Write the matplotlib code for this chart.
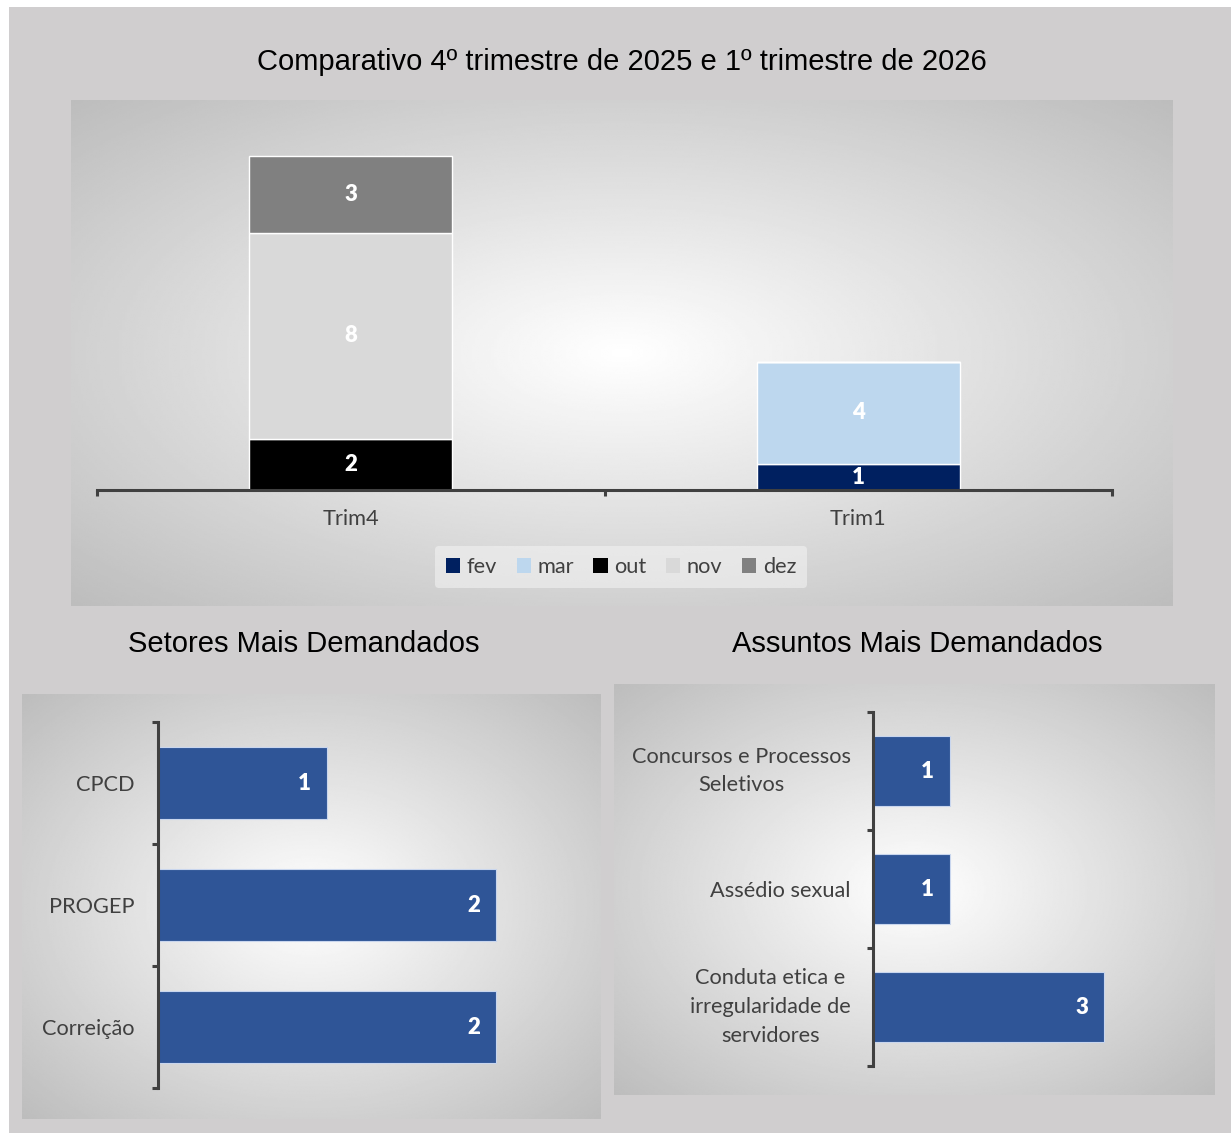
import numpy as np
import matplotlib
matplotlib.use('Agg')
import matplotlib.pyplot as plt
from matplotlib.patches import Patch, Rectangle

# ---------------- data ----------------
quarters = ['Trim4', 'Trim1']
months = ['fev', 'mar', 'out', 'nov', 'dez']
fev = [0, 1]
mar = [0, 4]
out = [2, 0]
nov = [8, 0]
dez = [3, 0]
month_colors = ['#002060', '#BDD7EE', '#000000', '#D9D9D9', '#808080']

setores = ['CPCD', 'PROGEP', 'Correição']
setores_vals = [1, 2, 2]

assuntos = ['Concursos e Processos\nSeletivos', 'Assédio sexual',
            'Conduta etica e\nirregularidade de\nservidores']
assuntos_vals = [1, 1, 3]

title_top = 'Comparativo 4º trimestre de 2025 e 1º trimestre de 2026'
title_left = 'Setores Mais Demandados'
title_right = 'Assuntos Mais Demandados'

# ---------------- layout helpers ----------------
W, H, DPI = 1231, 1133, 100
fig = plt.figure(figsize=(W / DPI, H / DPI), dpi=DPI, facecolor='white')

TICKFONT = 'Lato'
TITLEFONT = 'Liberation Sans'
AXCOL = '#404040'
TXTCOL = '#404040'
BARBLUE = '#2F5597'
TICKSIZE = 15.7
LABSIZE = 16


def fbox(x0, y0, x1, y1):
    return [x0 / W, 1 - y1 / H, (x1 - x0) / W, (y1 - y0) / H]


def panel(x0, y0, x1, y1):
    ax = fig.add_axes(fbox(x0, y0, x1, y1), zorder=0)
    yy, xx = np.mgrid[-1:1:300j, -1:1:400j]
    r = np.sqrt(xx ** 2 + yy ** 2) / np.sqrt(2)
    v = 1 - 0.26 * r
    ax.imshow(v, cmap='gray', vmin=0, vmax=1, aspect='auto',
              extent=[0, 1, 0, 1], interpolation='bilinear')
    ax.axis('off')
    return ax


# page background
fig.add_artist(Rectangle((9 / W, 0), 1 - 9 / W, 1 - 7 / H, transform=fig.transFigure,
                         facecolor='#d0cecf', edgecolor='none', zorder=-10))

panel(71, 100, 1173, 606)
panel(22, 694, 601, 1119)
panel(614, 684, 1215, 1095)

# titles
fig.text(622 / W, 1 - 62 / H, title_top, ha='center', va='center', fontsize=21,
         family=TITLEFONT, color='#000000')
fig.text(304 / W, 1 - 644 / H, title_left, ha='center', va='center', fontsize=21,
         family=TITLEFONT, color='#000000')
fig.text(917 / W, 1 - 644 / H, title_right, ha='center', va='center', fontsize=21,
         family=TITLEFONT, color='#000000')

# ---------------- top stacked chart ----------------
ax = fig.add_axes(fbox(97, 120, 1112, 490), zorder=2)
ax.patch.set_alpha(0)
x = np.arange(len(quarters))
bottom = np.zeros(len(quarters))
series = [fev, mar, out, nov, dez]
for name, vals, col in zip(months, series, month_colors):
    vals = np.array(vals, dtype=float)
    ax.bar(x, vals, 0.4, bottom=bottom, color=col, edgecolor='white', linewidth=1.0,
           label=name, zorder=3)
    for xi, b, v in zip(x, bottom, vals):
        if v > 0:
            ax.text(xi, b + v / 2, f'{int(v)}', ha='center', va='center', color='white',
                    fontsize=LABSIZE, fontweight='heavy', family=TICKFONT, zorder=4)
    bottom = bottom + vals
ax.set_xlim(-0.5, 1.5)
ax.set_ylim(0, 14.4)
for s in ['left', 'top', 'right']:
    ax.spines[s].set_visible(False)
ax.spines['bottom'].set_color(AXCOL)
ax.spines['bottom'].set_linewidth(2.2)
ax.spines['bottom'].set_zorder(5)
ax.set_yticks([])
ax.set_xticks(x)
ax.set_xticklabels(quarters, fontsize=TICKSIZE, family=TICKFONT, color=TXTCOL)
ax.set_xticks([-0.5, 0.5, 1.5], minor=True)
ax.tick_params(axis='x', which='major', length=0, pad=14)
ax.tick_params(axis='x', which='minor', length=4, width=2.2, color=AXCOL, direction='out')

handles = [Patch(facecolor=c, edgecolor='none') for c in month_colors]
leg = fig.legend(handles, months, loc='center', bbox_to_anchor=(621 / W, 1 - 567 / H),
                 bbox_transform=fig.transFigure, ncol=5, frameon=True,
                 facecolor='#f2f2f2', edgecolor='none', framealpha=0.6,
                 handlelength=0.65, handleheight=0.65, handletextpad=0.3,
                 columnspacing=0.9, prop={'family': TICKFONT, 'size': TICKSIZE},
                 borderpad=0.5)
for t in leg.get_texts():
    t.set_color(TXTCOL)
leg.set_zorder(6)


# ---------------- horizontal bar charts ----------------
def hbar(box, cats, vals, xmax, label_pad):
    axh = fig.add_axes(fbox(*box), zorder=2)
    axh.patch.set_alpha(0)
    y = np.arange(len(cats))
    axh.barh(y, vals, height=0.59, color=BARBLUE, edgecolor='#c9d6ee', linewidth=0.8,
             zorder=3)
    for yi, v in zip(y, vals):
        axh.annotate(f'{v}', (v, yi), xytext=(-16, 0), textcoords='offset points',
                     ha='center', va='center', color='white', fontsize=LABSIZE,
                     fontweight='heavy', family=TICKFONT, zorder=4)
    axh.set_xlim(0, xmax)
    axh.set_ylim(len(cats) - 0.5, -0.5)
    for s in ['bottom', 'top', 'right']:
        axh.spines[s].set_visible(False)
    axh.spines['left'].set_color(AXCOL)
    axh.spines['left'].set_linewidth(2.2)
    axh.spines['left'].set_zorder(5)
    axh.set_xticks([])
    axh.set_yticks(y)
    axh.set_yticklabels(cats, fontsize=TICKSIZE, family=TICKFONT, color=TXTCOL,
                        linespacing=1.55)
    for lbl in axh.get_yticklabels():
        lbl.set_multialignment('center')
        if '\n' in lbl.get_text():
            lbl.set_va('center')
    axh.set_yticks(np.arange(len(cats) + 1) - 0.5, minor=True)
    axh.tick_params(axis='y', which='major', length=0, pad=label_pad)
    axh.tick_params(axis='y', which='minor', length=4, width=2.2, color=AXCOL,
                    direction='out')
    return axh


hbar((158, 722, 580, 1088), setores, setores_vals, 2.5, 17)
hbar((873, 712, 1196, 1066), assuntos, assuntos_vals, 4.2, 16)

fig.savefig('out.png', dpi=DPI, facecolor=fig.get_facecolor())
